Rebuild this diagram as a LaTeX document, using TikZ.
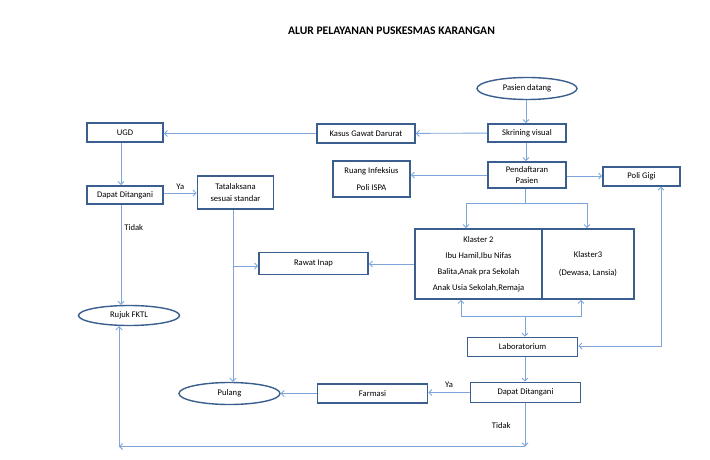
\documentclass[tikz,border=0pt]{standalone}
\usepackage{fontspec}
\setmainfont{Carlito}
\usetikzlibrary{arrows.meta,shapes.geometric}
\definecolor{boxc}{HTML}{3A5F8E}
\definecolor{linec}{HTML}{7EA6DA}
\begin{document}
\begin{tikzpicture}[x=1pt,y=-1pt,
  box/.style={draw=boxc,line width=1.6pt,fill=white,inner sep=0pt,align=center,font=\fontsize{8.6}{11.6}\selectfont},
  oval/.style={ellipse,draw=boxc,line width=1.4pt,fill=white,inner sep=0pt,font=\fontsize{8.6}{11}\selectfont},
  conn/.style={draw=linec,line width=0.9pt},
  arr/.style={conn,-{Straight Barb[length=3pt,width=6pt]}},
  arrboth/.style={conn,{Straight Barb[length=3pt,width=6pt]}-{Straight Barb[length=3pt,width=6pt]}},
  lbl/.style={font=\fontsize{8.6}{10}\selectfont,inner sep=1pt}]
\useasboundingbox[fill=white] (0,0) rectangle (710,460);

\node[font=\bfseries\fontsize{11.6}{13}\selectfont] (title) at (391.5,31) {ALUR PELAYANAN PUSKESMAS KARANGAN};

\node[oval,minimum width=100,minimum height=22] (pd) at (527,88.5) {Pasien datang};
\node[box,minimum width=78,minimum height=18] (sk) at (527,133) {Skrining visual};
\node[box,minimum width=98,minimum height=18.5] (kgd) at (366,133.5) {Kasus Gawat Darurat};
\node[box,minimum width=76,minimum height=18.5] (ugd) at (125,132.5) {UGD};
\node[box,minimum width=78,minimum height=26] (pp) at (527,175) {Pendaftaran\\Pasien};
\node[box,minimum width=77,minimum height=36,font=\fontsize{8.6}{16.7}\selectfont] (ri) at (371.5,179) {Ruang Infeksius\\Poli ISPA};
\node[box,minimum width=77,minimum height=18.5] (pg) at (641.5,176.5) {Poli Gigi};
\node[box,minimum width=76,minimum height=18] (dd1) at (125,195) {Dapat Ditangani};
\node[box,minimum width=76,minimum height=33] (tl) at (235.5,192.5) {Tatalaksana\\sesuai standar};
\node[oval,minimum width=101,minimum height=20] (rf) at (129,315.5) {Rujuk FKTL};
\node[box,minimum width=109,minimum height=22] (rwi) at (313.5,263.5) {Rawat Inap};
\node[box,minimum width=127,minimum height=70,font=\fontsize{8.6}{16}\selectfont] (k2) at (478.5,264) {Klaster 2\\Ibu Hamil,Ibu Nifas\\Balita,Anak pra Sekolah\\Anak Usia Sekolah,Remaja};
\node[box,minimum width=92,minimum height=70,font=\fontsize{8.6}{17.7}\selectfont] (k3) at (588,264) {Klaster3\\(Dewasa, Lansia)};
\node[box,minimum width=110,minimum height=19] (lab) at (522.5,347) {Laboratorium};
\node[box,minimum width=110,minimum height=20] (dd2) at (525.5,392.5) {Dapat Ditangani};
\node[box,minimum width=110,minimum height=19.5] (fa) at (372.5,393.5) {Farmasi};
\node[oval,minimum width=101,minimum height=22] (pu) at (229.5,393.5) {Pulang};

% top chain
\draw[arr] (pd.south -| 526,0) -- (sk.north -| 526,0);
\draw[arr] (sk.south -| 526,0) -- (pp.north -| 526,0);
\draw[arr] (sk) -- (kgd);
\draw[arr] (kgd.west) -- (kgd.west -| ugd.east);
\draw[arr] (ugd.south -| 121,0) -- (dd1.north -| 121,0);
\draw[arr] (dd1.east |- 0,193) -- node[lbl,above=2pt]{Ya} (tl.west |- 0,193);
\draw[arr] (dd1.south -| 121,0) -- node[lbl,pos=0.23,right=2pt]{Tidak} (rf.north -| 121,0);
\draw[arr] (pp.west) -- (pp.west -| ri.east);
\draw[arr] (pp.east |- 0,176) -- (pg.west |- 0,176);

% Pendaftaran to klaster
\coordinate (pj) at (525,203);
\draw[conn] (pp.south -| pj) -- (pj);
\draw[arr] (pj) -| (k2.north -| 466,0);
\draw[arr] (pj) -| (k3.north -| 587,0);

% Tatalaksana branch
\coordinate (tj) at (233,266);
\draw[arr] (tl.south -| tj) -- (pu.north -| tj);
\draw[arr] (tj) -- (tj -| rwi.west);
\draw[arr] (k2.west) -- (k2.west -| rwi.east);

% Laboratorium to klaster
\coordinate (lj) at (525,316);
\draw[arr] (lj) -- (lab.north -| lj);
\draw[arr] (lj) -| (k2.south -| 461,0);
\draw[arr] (lj) -| (k3.south -| 581,0);

% Poli Gigi to Laboratorium
\draw[arrboth] (pg.south -| 661,0) |- (lab.east |- 0,346);

% lower chain
\draw[arr] (lab.south -| 525,0) -- (dd2.north -| 525,0);
\draw[arr] (dd2.west) -- node[lbl,above=3pt]{Ya} (fa.east |- dd2.west);
\draw[arr] (fa.west) -- (fa.west -| pu.east);

% Tidak to Rujuk FKTL
\coordinate (bj) at (525,446.5);
\coordinate (bl) at (119,446.5);
\draw[arr] (dd2.south -| bj) -- node[lbl,pos=0.52,left=13pt]{Tidak} (bj);
\draw[arr] (bj) -- (bl);
\draw[arr] (bl) -- (rf.south -| bl);
\end{tikzpicture}
\end{document}
